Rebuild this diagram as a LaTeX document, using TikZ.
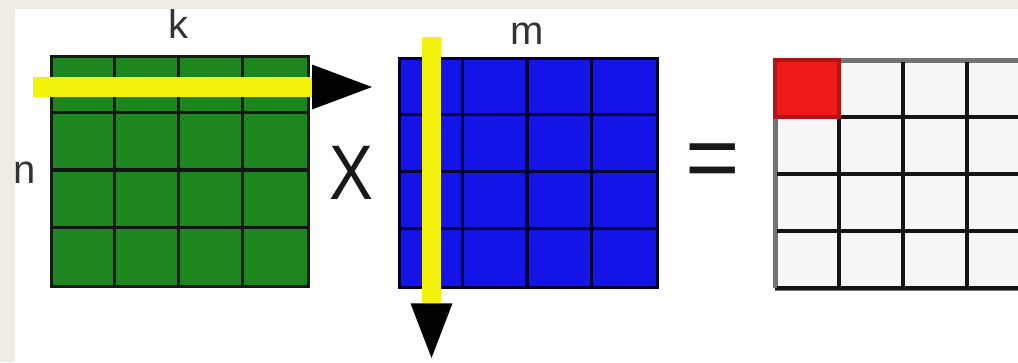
\documentclass[tikz,border=0pt]{standalone}
\usepackage{fontspec}
\setmainfont{Liberation Sans}
\usetikzlibrary{arrows.meta}
\definecolor{bgbeige}{HTML}{EFECE5}
\definecolor{matgreen}{HTML}{1E861E}
\definecolor{matblue}{HTML}{1414E6}
\definecolor{cellred}{HTML}{EE1A1A}
\definecolor{baryellow}{HTML}{F2F20A}
\definecolor{cellgray}{HTML}{F6F6F6}
\tikzset{
  gridline/.style={line width=2.3pt, black!92},
  matbox/.style={draw=black!90, line width=2.3pt, inner sep=0pt, anchor=north west},
  lbl/.style={font=\fontsize{30}{30}\selectfont, inner sep=0pt, text=black!80},
  opsign/.style={inner sep=0pt, text=black!90},
  hbar/.style={line width=15pt, baryellow, -{Triangle[length=45pt,width=33.75pt,line width=0pt,color=black]}},
  vbar/.style={line width=14pt, baryellow, -{Triangle[length=41pt,width=31.5pt,line width=0pt,color=black]}}
}
\begin{document}
\begin{tikzpicture}[x=0.75pt,y=-0.75pt]
\useasboundingbox (0,0) rectangle (1018,362);
\clip (0,0) rectangle (1018,362);
\fill[bgbeige] (0,0) rectangle (1018,362);
\fill[white] (15,9) rectangle (1018,362);

% matrix A (green), 4x4
\node[matbox, fill=matgreen, minimum width=192.75pt, minimum height=172.5pt] (A) at (50,55) {};
\foreach \x in {114.25,178.5,242.75} \draw[gridline] (\x,55) -- (\x,285);
\foreach \y in {112.5,170,227.5} \draw[gridline] (50,\y) -- (307,\y);

% matrix B (blue), 4x4
\node[matbox, fill=matblue, draw=black!80!blue, minimum width=193.5pt, minimum height=171.75pt] (B) at (398,57) {};
\foreach \x in {462.5,527,591.5} \draw[gridline, black!80!blue] (\x,57) -- (\x,286);
\foreach \y in {114.25,171.5,228.75} \draw[gridline, black!80!blue] (398,\y) -- (656,\y);

% matrix C (result), 4x4, clipped at right edge
\node[matbox, fill=cellgray, draw=black!55, minimum width=192pt, minimum height=171pt] (C) at (775,60) {};
\fill[cellred] (775,60) rectangle (839,117);
\node[inner sep=0pt] (c11) at (807,88.5) {};
\foreach \x in {839,903,967} \draw[gridline] (\x,60) -- (\x,288);
\foreach \y in {117,174,231} \draw[gridline] (775,\y) -- (1031,\y);
\draw[gridline] (775,288) -- (1031,288);
\draw[line width=2.3pt, black!55] (775,60) -- (1031,60);
\draw[line width=2.3pt, black!55] (775,60) -- (775,288);
\draw[line width=2.3pt, cellred!75!black] (775,60) rectangle (839,117);

% labels
\node[lbl] (k) at (178,24) {k};
\node[lbl] (n) at (25,173) {n};
\node[lbl] (m) at (527,34) {m};
\node[opsign, font=\fontsize{58}{58}\selectfont, xscale=0.85] (times) at (351,172.5) {X};
\node[opsign, font=\fontsize{70}{70}\selectfont] (eq) at (713,167) {=};

% row and column sweeps
\coordinate (rowstart) at (33,87);
\coordinate (rowend) at (372,87);
\draw[hbar] (rowstart) -- (rowend);
\coordinate (colstart) at (431.5,37);
\coordinate (colend) at (431.5,358);
\draw[vbar] (colstart) -- (colend);
\end{tikzpicture}
\end{document}
